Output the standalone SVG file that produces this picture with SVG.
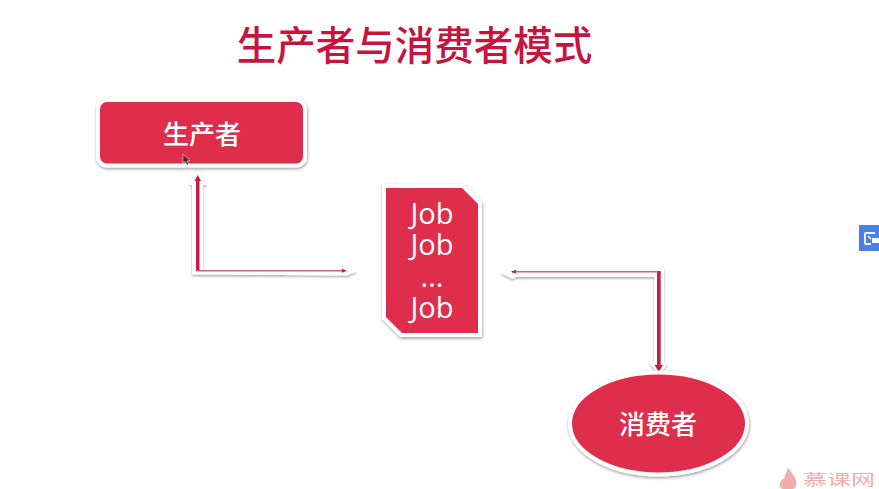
<svg xmlns="http://www.w3.org/2000/svg" width="879" height="489" viewBox="0 0 879 489">
<defs>
<filter id="sh" x="-10%" y="-10%" width="120%" height="125%"><feDropShadow dx="0.500" dy="1.500" stdDeviation="1.500" flood-color="#000" flood-opacity="0.4"/></filter>
<filter id="sh2" x="-20%" y="-20%" width="140%" height="140%"><feDropShadow dx="0" dy="1.500" stdDeviation="1" flood-color="#000" flood-opacity="0.35"/></filter>
</defs>
<style>
.t{font-family:"Noto Sans CJK SC","Noto Sans",sans-serif;text-anchor:middle}
.w{fill:#fff;font-size:26px;font-weight:500}
.j{fill:#fff;font-size:29px;font-family:"Open Sans","Noto Sans",sans-serif;text-anchor:middle}
.n{fill:#de2e4b;stroke:#fff;stroke-width:4;filter:url(#sh)}
.halo{fill:#fff;filter:url(#sh2)}
.l{fill:#c41e44}
.l2{fill:#cf6078}
</style>
<rect width="879" height="489" fill="#fff"/>
<text id="title" class="t" x="414.500" y="60" font-size="39.500" font-weight="500" fill="#c6143f">生产者与消费者模式</text>

<g id="connectors">
<g id="c1">
<path class="halo" d="M198 169 L207 185 L203 185 L203 267 L347 267 L357 271.500 L347 275.500 L192 274.500 L192 185 L189 185 Z"/>
<rect class="l" x="196" y="180" width="3.500" height="91"/>
<path class="l" d="M197.800 175 L201 181 L194.500 181 Z"/>
<rect class="l2" x="197" y="270" width="146" height="1.500"/>
<path class="l" d="M347 270.800 L342 268.800 L342 272.800 Z"/>
</g>
<g id="c2">
<path class="halo" d="M500.500 273 L510 268.500 L664 268.500 L664 363 L668 363 L659 375 L650 363 L654 363 L654 277 L516 277 L513 279 Z"/>
<rect class="l" x="657" y="271" width="3.700" height="96"/>
<rect class="l2" x="512" y="271" width="146" height="1.500"/>
<path class="l" d="M511 271.800 L516 269.800 L516 273.800 Z"/>
<path class="l" d="M658.800 372 L654.500 365 L663 365 Z"/>
</g>
</g>

<g id="producer">
<rect class="n" x="98" y="100" width="207" height="65.500" rx="9"/>
<text class="t w" x="202" y="144">生产者</text>
</g>
<g id="jobs">
<path class="n" d="M384 186 L463 186 L480 203 L480 335 L401 335 L384 318 Z"/>
<text class="j"><tspan x="432" y="224">Job</tspan><tspan x="432" y="255">Job</tspan><tspan x="432" y="287">...</tspan><tspan x="432" y="318">Job</tspan></text>
</g>
<g id="consumer">
<ellipse class="n" cx="658.500" cy="423.500" rx="88.500" ry="51"/>
<text class="t w" x="658" y="434">消费者</text>
</g>

<path id="cursor" d="M183 154 L183 163 L185 161.500 L187 165 L188.500 164.500 L187 161 L190 160.500 Z" fill="#333" stroke="#fff" stroke-width="0.500"/>

<g id="widget">
<rect x="859" y="225" width="20" height="26" fill="#4a80ea"/>
<path d="M875 233 L866 233 Q865 233 865 234 L865 243 Q865 244 866 244 L871 244" fill="none" stroke="#fff" stroke-width="1.800"/>
<rect x="872" y="238" width="7" height="5" fill="#fff"/>
<path d="M868 236 L871 239" stroke="#fff" stroke-width="1.500"/>
</g>

<g id="logo" fill="#eeaeac">
<path d="M788 468 C793 474 798 480 796 486 C795 489 793 489 791 489 L784 489 C781 489 779 487 780 483 C781 479 784 480 785 476 C786 473 787 471 788 468 Z"/>
<text x="803" y="484.500" font-size="15" font-family="'Noto Sans CJK SC',sans-serif" textLength="72" lengthAdjust="spacingAndGlyphs">慕课网</text>
</g>
</svg>
